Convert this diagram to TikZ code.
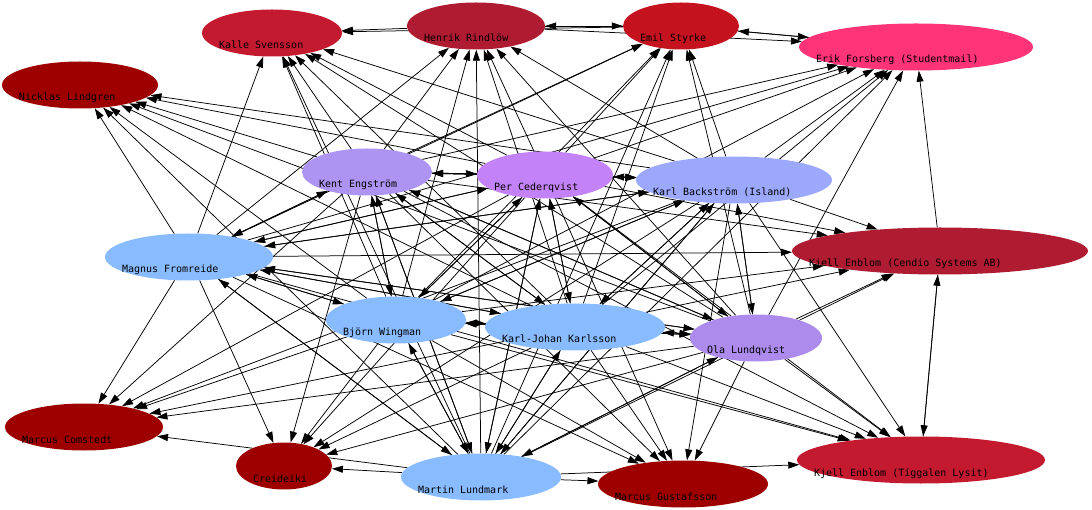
\documentclass[tikz,border=0pt]{standalone}
\usepackage{fontspec}
\setmonofont{DejaVu Sans Mono}
\usetikzlibrary{arrows.meta,shapes.geometric,positioning}
\pgfdeclarelayer{edges}
\pgfsetlayers{edges,main}
\definecolor{crimson}{HTML}{C41A30}
\definecolor{wine}{HTML}{AF1C31}
\definecolor{scarlet}{HTML}{C4121F}
\definecolor{pinkish}{HTML}{FF3377}
\definecolor{darkred}{HTML}{9E0000}
\definecolor{lavender}{HTML}{AD93F2}
\definecolor{violet}{HTML}{C482F8}
\definecolor{periwinkle}{HTML}{9BA8FC}
\definecolor{skyblue}{HTML}{88BBFF}
\definecolor{lilac}{HTML}{AD8BEC}
\begin{document}
\begin{tikzpicture}[x=1pt,y=-1pt,
    person/.style={ellipse, draw=none, minimum height=47pt, inner sep=0pt},
    tag/.style={anchor=base west, inner sep=0pt, font=\ttfamily\fontsize{10}{11}\selectfont},
    link/.style={line width=0.75pt, -{Triangle[length=11pt,width=7pt]}}]
    {
    \useasboundingbox (0,0) rectangle (1092,510);

    \foreach \n/\x/\y/\w/\c/\txt in {
        kalle/272/33/140/crimson/Kalle Svensson,
        henrik/476/26/138/wine/Henrik Rindlöw,
        emil/681/26/116/scarlet/Emil Styrke,
        erik/916/47/234/pinkish/Erik Forsberg (Studentmail),
        nicklas/80/85/156/darkred/Nicklas Lindgren,
        kent/367/172/130/lavender/Kent Engström,
        per/545/175/136/violet/Per Cederqvist,
        karlb/734/180/196/periwinkle/Karl Backström (Island),
        magnus/189/257/168/skyblue/Magnus Fromreide,
        kjellc/940/251/296/wine/Kjell Enblom (Cendio Systems AB),
        bjorn/396/320/140/skyblue/Björn Wingman,
        karlj/575/327/180/skyblue/Karl-Johan Karlsson,
        ola/756/338/132/lilac/Ola Lundqvist,
        comstedt/84/427/158/darkred/Marcus Comstedt,
        creideiki/284/466/96/darkred/Creideiki,
        martin/481/477/160/skyblue/Martin Lundmark,
        gustafsson/683/484/170/darkred/Marcus Gustafsson,
        kjellt/921/460/248/crimson/Kjell Enblom (Tíggalen Lysit)}
    {
        \node[person, fill=\c, minimum width=\w pt] (\n) at (\x,\y) {};
        \node[tag] (\n-t) at ([xshift=17pt,yshift=-16pt]\n.west) {\txt};
    }

    \begin{pgfonlayer}{edges}
        \foreach \src in {kent,per,karlb,magnus,bjorn,karlj,ola,martin}
            \foreach \dst in {kalle,henrik,emil,erik,nicklas,kent,per,karlb,magnus,
                              kjellc,bjorn,karlj,ola,comstedt,creideiki,martin,gustafsson,kjellt}
            {
                \ifx\src\dst\else
                    \draw[link] (\src) -- (\dst);
                \fi
            }
        \foreach \src/\dst in {henrik/kalle,emil/kalle,henrik/emil,emil/henrik,emil/erik,
                               erik/emil,henrik/erik,kjellc/erik,kjellc/kjellt,kjellt/kjellc}
            \draw[link] (\src) -- (\dst);
    \end{pgfonlayer}
}
\end{tikzpicture}
\end{document}
